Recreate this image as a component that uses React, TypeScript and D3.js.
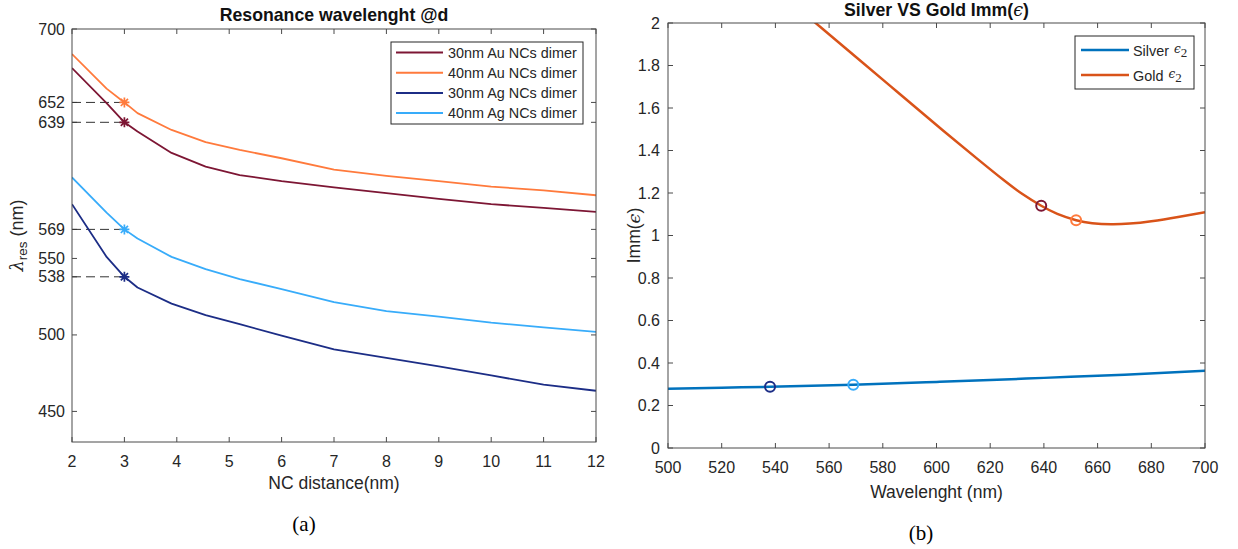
import React from 'react';
import * as d3 from 'd3';

// ---------- Data (panel a) ----------
const ncDistance = [2, 2.66, 3, 3.25, 3.9, 4.55, 5.2, 6, 7, 8, 9, 10, 11, 12];
const au30 = [674.5, 651.5, 639, 633, 619, 610, 604.5, 600.5, 596.5, 592.7, 589, 585.5, 583, 580.5];
const au40 = [683.6, 661, 652, 645, 634, 626, 621, 615.5, 608, 604, 600.5, 597, 594.5, 591.3];
const ag30 = [585.5, 551, 538, 531, 520.5, 513, 507, 499.5, 490.5, 485, 479.5, 473.5, 467.5, 463.5];
const ag40 = [603, 580, 569, 563, 551, 543, 536.5, 530, 521.5, 515.5, 512, 508, 505, 502];
const seriesNames = ['30nm Au NCs dimer', '40nm Au NCs dimer', '30nm Ag NCs dimer', '40nm Ag NCs dimer'];
const seriesColors = ['#7d1634', '#ff7a3c', '#1c2d86', '#38acfa'];
const leftXTicks = [2, 3, 4, 5, 6, 7, 8, 9, 10, 11, 12];
const leftYTicks = [450, 500, 538, 550, 569, 639, 652, 700];
const markedDistance = 3;
const markedLambda = [639, 652, 538, 569];

// ---------- Data (panel b) ----------
const silverWl = [500, 520, 538, 569, 600, 620, 640, 670, 700];
const silverEps2 = [0.279, 0.284, 0.288, 0.298, 0.311, 0.32, 0.33, 0.345, 0.363];
const goldWl = [550, 555, 570, 585, 600, 615, 625, 632, 639, 645, 652, 658, 665, 672, 680, 690, 700];
const goldEps2 = [2.053, 2.0, 1.84, 1.68, 1.52, 1.363, 1.261, 1.195, 1.14, 1.102, 1.072, 1.058, 1.053, 1.056, 1.067, 1.087, 1.11];
const circleWl = [538, 569, 639, 652];
const circleEps2 = [0.288, 0.298, 1.14, 1.072];
const circleColors = ['#1c2d86', '#38acfa', '#7d1634', '#ff7a3c'];
const rightXTicks = [500, 520, 540, 560, 580, 600, 620, 640, 660, 680, 700];
const rightYTicks = [0, 0.2, 0.4, 0.6, 0.8, 1, 1.2, 1.4, 1.6, 1.8, 2];
const silverColor = '#0072bd';
const goldColor = '#d95319';

const FONT = '"Liberation Sans", Arial, Helvetica, sans-serif';
const TXT = '#262626';
const AX = '#4a4a4a';
const TICK_FS = 16;
const LABEL_FS = 17.5;
const TITLE_FS = 17.7;

function Star({ x, y, color }: { x: number; y: number; color: string }) {
  const s = 5, d = 3.6;
  return (
    <path
      d={`M${x - s},${y}L${x + s},${y}M${x},${y - s}L${x},${y + s}M${x - d},${y - d}L${x + d},${y + d}M${x - d},${y + d}L${x + d},${y - d}`}
      stroke={color}
      strokeWidth={1.7}
      fill="none"
    />
  );
}

export default function App() {
  // Panel a scales
  const xa = d3.scaleLinear().domain([2, 12]).range([72, 596]);
  const ya = d3.scaleLinear().domain([430, 700]).range([442, 29]);
  const lineA = d3
    .line<number>()
    .x((_, i) => xa(ncDistance[i]))
    .y((v) => ya(v));
  const seriesA = [au30, au40, ag30, ag40];

  // Panel b scales
  const xb = d3.scaleLinear().domain([500, 700]).range([668, 1205]);
  const yb = d3.scaleLinear().domain([0, 2]).range([448, 23]);
  const silverLine = d3
    .line<number>()
    .x((_, i) => xb(silverWl[i]))
    .y((v) => yb(v))
    .curve(d3.curveMonotoneX);
  const goldLine = d3
    .line<number>()
    .x((_, i) => xb(goldWl[i]))
    .y((v) => yb(v))
    .curve(d3.curveNatural);

  const tk = 5;
  const [aL, aR] = xa.range();
  const [aB, aT] = ya.range();
  const [bL, bR] = xb.range();
  const [bB, bT] = yb.range();

  return (
    <svg
      width={1238}
      height={549}
      style={{ position: 'absolute', left: 0, top: 0, background: '#fff' }}
      fontFamily={FONT}
    >
      <defs>
        <clipPath id="clipB">
          <rect x={bL} y={bT} width={bR - bL} height={bB - bT} />
        </clipPath>
        <clipPath id="clipA">
          <rect x={aL} y={aT} width={aR - aL} height={aB - aT} />
        </clipPath>
      </defs>
      <rect width={1238} height={549} fill="#fff" />

      {/* ---------------- Panel a ---------------- */}
      <text x={(aL + aR) / 2} y={21} textAnchor="middle" fontWeight="bold" fontSize={TITLE_FS} fill="#111">
        Resonance wavelenght @d
      </text>
      {leftXTicks.map((t) => (
        <g key={'xa' + t}>
          <line x1={xa(t)} x2={xa(t)} y1={aB} y2={aB - tk} stroke={AX} />
          <line x1={xa(t)} x2={xa(t)} y1={aT} y2={aT + tk} stroke={AX} />
          <text x={xa(t)} y={467} textAnchor="middle" fontSize={TICK_FS} fill={TXT}>
            {t}
          </text>
        </g>
      ))}
      {leftYTicks.map((t) => (
        <g key={'ya' + t}>
          <line x1={aL} x2={aL + tk} y1={ya(t)} y2={ya(t)} stroke={AX} />
          <line x1={aR} x2={aR - tk} y1={ya(t)} y2={ya(t)} stroke={AX} />
          <text x={65} y={ya(t) + 5.5} textAnchor="end" fontSize={TICK_FS} fill={TXT}>
            {t}
          </text>
        </g>
      ))}
      {markedLambda.map((v, i) => (
        <line
          key={'dash' + i}
          x1={aL}
          x2={xa(markedDistance)}
          y1={ya(v)}
          y2={ya(v)}
          stroke="#333"
          strokeWidth={1}
          strokeDasharray="9,5"
        />
      ))}
      <g clipPath="url(#clipA)">
        {seriesA.map((s, i) => (
          <path key={'sa' + i} d={lineA(s) || ''} fill="none" stroke={seriesColors[i]} strokeWidth={1.8} strokeLinejoin="round" />
        ))}
      </g>
      {seriesA.map((s, i) => (
        <Star key={'st' + i} x={xa(markedDistance)} y={ya(markedLambda[i])} color={seriesColors[i]} />
      ))}
      <rect x={aL} y={aT} width={aR - aL} height={aB - aT} fill="none" stroke={AX} strokeWidth={1} />
      {/* legend */}
      <rect x={391} y={42} width={192} height={82} fill="#fff" stroke="#262626" strokeWidth={1} />
      {seriesNames.map((n, i) => {
        const yy = 52.5 + i * 20.2;
        return (
          <g key={'lg' + i}>
            <line x1={396} x2={443} y1={yy} y2={yy} stroke={seriesColors[i]} strokeWidth={2} />
            <text x={448} y={yy + 5} fontSize={14.4} fill={TXT}>
              {n}
            </text>
          </g>
        );
      })}
      <text x={(aL + aR) / 2} y={489} textAnchor="middle" fontSize={LABEL_FS} fill={TXT}>
        NC distance(nm)
      </text>
      <text transform={`translate(23, ${(aT + aB) / 2}) rotate(-90)`} textAnchor="middle" fontSize={18} fill={TXT}>
        <tspan fontFamily='"DejaVu Serif", serif' fontStyle="italic">λ</tspan>
        <tspan dy={4} fontSize={13.5}>res</tspan>
        <tspan dy={-4}> (nm)</tspan>
      </text>
      <text x={304} y={531} textAnchor="middle" fontSize={21} fontFamily='"Liberation Serif", "Times New Roman", serif' fill="#000">
        (a)
      </text>

      {/* ---------------- Panel b ---------------- */}
      <text x={(bL + bR) / 2} y={16} textAnchor="middle" fontWeight="bold" fontSize={TITLE_FS} fill="#111">
        Silver VS Gold Imm(
        <tspan fontFamily='"DejaVu Serif", serif' fontStyle="italic" fontWeight="normal">ϵ</tspan>)
      </text>
      {rightXTicks.map((t) => (
        <g key={'xb' + t}>
          <line x1={xb(t)} x2={xb(t)} y1={bB} y2={bB - tk} stroke={AX} />
          <line x1={xb(t)} x2={xb(t)} y1={bT} y2={bT + tk} stroke={AX} />
          <text x={xb(t)} y={473} textAnchor="middle" fontSize={TICK_FS} fill={TXT}>
            {t}
          </text>
        </g>
      ))}
      {rightYTicks.map((t) => (
        <g key={'yb' + t}>
          <line x1={bL} x2={bL + tk} y1={yb(t)} y2={yb(t)} stroke={AX} />
          <line x1={bR} x2={bR - tk} y1={yb(t)} y2={yb(t)} stroke={AX} />
          <text x={660} y={yb(t) + 5.5} textAnchor="end" fontSize={TICK_FS} fill={TXT}>
            {t}
          </text>
        </g>
      ))}
      <g clipPath="url(#clipB)">
        <path d={silverLine(silverEps2) || ''} fill="none" stroke={silverColor} strokeWidth={2.5} />
        <path d={goldLine(goldEps2) || ''} fill="none" stroke={goldColor} strokeWidth={2.5} />
      </g>
      {circleWl.map((w, i) => (
        <circle key={'c' + i} cx={xb(w)} cy={yb(circleEps2[i])} r={5} fill="none" stroke={circleColors[i]} strokeWidth={2} />
      ))}
      <rect x={bL} y={bT} width={bR - bL} height={bB - bT} fill="none" stroke={AX} strokeWidth={1} />
      {/* legend */}
      <rect x={1075} y={36} width={119} height={53} fill="#fff" stroke="#262626" strokeWidth={1} />
      {[
        { name: 'Silver', color: silverColor },
        { name: 'Gold', color: goldColor },
      ].map((e, i) => {
        const yy = 50 + i * 25;
        return (
          <g key={'lb' + i}>
            <line x1={1081} x2={1129} y1={yy} y2={yy} stroke={e.color} strokeWidth={2.5} />
            <text x={1133} y={yy + 6} fontSize={14.4} fill={TXT}>
              {e.name}
              <tspan dx={5} dy={-3} fontFamily='"DejaVu Serif", serif' fontStyle="italic" fontSize={12}>ϵ</tspan>
              <tspan dy={4} fontFamily='"Liberation Serif", serif' fontSize={13}>2</tspan>
            </text>
          </g>
        );
      })}
      <text x={(bL + bR) / 2} y={498} textAnchor="middle" fontSize={LABEL_FS} fill={TXT}>
        Wavelenght (nm)
      </text>
      <text transform={`translate(640, ${(bT + bB) / 2}) rotate(-90)`} textAnchor="middle" fontSize={LABEL_FS} fill={TXT}>
        Imm(
        <tspan fontFamily='"DejaVu Serif", serif' fontStyle="italic">ϵ</tspan>)
      </text>
      <text x={921} y={540} textAnchor="middle" fontSize={21} fontFamily='"Liberation Serif", "Times New Roman", serif' fill="#000">
        (b)
      </text>
    </svg>
  );
}
